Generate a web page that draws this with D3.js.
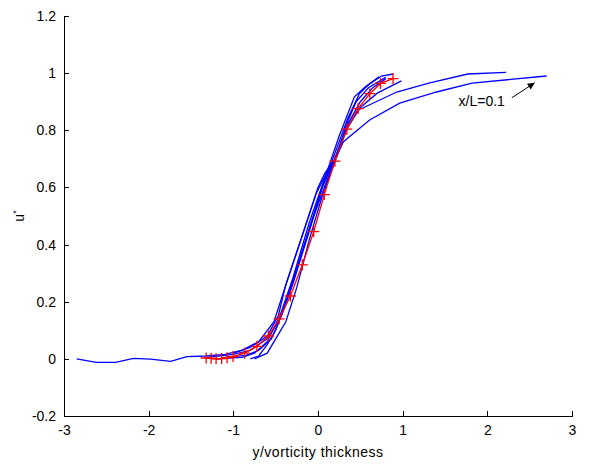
<!DOCTYPE html>
<html>
<head>
<meta charset="utf-8">
<script src="https://cdn.jsdelivr.net/npm/d3@7"></script>
<style>
  body { margin: 0; background: #fff; }
  text { font-family: "Liberation Sans", Arial, sans-serif; }
</style>
</head>
<body>
<div id="chart"></div>
<script>
// tick values
var xTicks = [-3, -2, -1, 0, 1, 2, 3];
var yTicks = [-0.2, 0, 0.2, 0.4, 0.6, 0.8, 1, 1.2];

// blue profiles, [y/thickness, u*]
var profileA = [[-2.85, 0], [-2.62, -0.012], [-2.39, -0.012], [-2.18, 0.002], [-1.98, -0.001], [-1.74, -0.009], [-1.55, 0.008], [-1.32, 0.01], [-1.1, 0.016], [-0.9, 0.03], [-0.7, 0.06], [-0.52, 0.13], [-0.4, 0.24], [-0.22, 0.4], [-0.02, 0.58], [0.1, 0.65], [0.2, 0.696], [0.3, 0.76], [0.61, 0.836], [0.965, 0.895], [1.4, 0.934], [1.82, 0.965], [2.7, 0.99]];
var profileB = [[-1.3, 0.005], [-1.0, 0.016], [-0.8, 0.03], [-0.6, 0.07], [-0.45, 0.14], [-0.3, 0.26], [-0.1, 0.45], [0.05, 0.6], [0.2, 0.7], [0.33, 0.8], [0.47, 0.871], [0.53, 0.878], [0.93, 0.934], [1.32, 0.966], [1.77, 0.997], [2.22, 1.003]];
var profileC = [[-1.2, 0.0], [-0.9, 0.005], [-0.75, 0.02], [-0.6, 0.06], [-0.45, 0.15], [-0.3, 0.28], [-0.1, 0.48], [0.1, 0.65], [0.25, 0.78], [0.43, 0.917], [0.55, 0.95], [0.72, 0.987]];
var profileD = [[-1.1, 0.005], [-0.85, 0.012], [-0.7, 0.03], [-0.55, 0.07], [-0.42, 0.16], [-0.28, 0.28], [-0.1, 0.46], [0.05, 0.6], [0.2, 0.72], [0.35, 0.84], [0.49, 0.929], [0.6, 0.96], [0.75, 0.99], [0.886, 0.997]];
var profileE = [[-0.8, 0], [-0.7, 0.01], [-0.6, 0.05], [-0.5, 0.1], [-0.4, 0.18], [-0.25, 0.32], [-0.05, 0.5], [0.2, 0.7], [0.35, 0.81], [0.5, 0.88], [0.7, 0.93], [0.985, 0.973]];
var profileF = [[-1.0, 0.02], [-0.8, 0.04], [-0.6, 0.08], [-0.47, 0.15], [-0.38, 0.26], [-0.2, 0.42], [0.0, 0.6], [0.08, 0.649], [0.2, 0.7], [0.35, 0.83], [0.45, 0.9], [0.6, 0.95], [0.8, 0.985]];
var profileG = [[-0.75, 0.0], [-0.6, 0.02], [-0.5, 0.07], [-0.38, 0.13], [-0.25, 0.25], [-0.1, 0.42], [0.05, 0.57], [0.2, 0.69], [0.35, 0.82], [0.5, 0.9], [0.65, 0.95], [0.8, 0.98]];
var profiles = [profileA, profileB, profileC, profileD, profileE, profileF, profileG];

// red reference profile with + markers
var refProfile = [[-1.321, 0.003], [-1.262, 0.002], [-1.204, 0.0], [-1.138, 0.001], [-1.074, 0.004], [-1.003, 0.008], [-0.867, 0.02], [-0.721, 0.044], [-0.585, 0.08], [-0.459, 0.14], [-0.326, 0.22], [-0.185, 0.329], [-0.051, 0.445], [0.074, 0.575], [0.2, 0.692], [0.341, 0.804], [0.474, 0.876], [0.612, 0.928], [0.738, 0.964], [0.886, 0.981]];

// annotation
var noteText = 'x/L=0.1';
var notePos = [1.66, 0.904];
var arrowFrom = [2.29, 0.914];
var arrowTo = [2.56, 0.966];

var W = 589, H = 464;
var pad = { left: 64, right: 17, top: 16, bottom: 48 };
var fontSize = 14;

var svg = d3.select('#chart').append('svg')
    .attr('width', W)
    .attr('height', H);

var x = d3.scaleLinear().domain([-3, 3]).range([pad.left, W - pad.right]);
var y = d3.scaleLinear().domain([-0.2, 1.2]).range([H - pad.bottom, pad.top]);

var fmt = function (v) { return String(+v.toFixed(1)); };

// axes, ticks pointing inward
var gx = svg.append('g')
    .attr('transform', 'translate(0,' + (H - pad.bottom) + ')')
    .call(d3.axisBottom(x).tickValues(xTicks).tickFormat(fmt).tickSizeInner(-5).tickSizeOuter(0).tickPadding(9));
var gy = svg.append('g')
    .attr('transform', 'translate(' + pad.left + ',0)')
    .call(d3.axisLeft(y).tickValues(yTicks).tickFormat(fmt).tickSizeInner(-5).tickSizeOuter(0).tickPadding(8));

[gx, gy].forEach(function (g) {
    g.selectAll('path, line').attr('stroke', '#000').attr('shape-rendering', 'crispEdges');
    g.selectAll('text').attr('font-size', fontSize).attr('fill', '#000')
        .attr('font-family', '"Liberation Sans", Arial, sans-serif');
});

var line = d3.line()
    .x(function (d) { return x(d[0]); })
    .y(function (d) { return y(d[1]); });

svg.append('g').selectAll('path')
    .data(profiles)
    .enter().append('path')
    .attr('d', line)
    .attr('fill', 'none')
    .attr('stroke', '#0000ff')
    .attr('stroke-width', 1.3);

svg.append('path')
    .datum(refProfile)
    .attr('d', line)
    .attr('fill', 'none')
    .attr('stroke', '#ff0000')
    .attr('stroke-width', 1.3);

// + markers
svg.append('g').selectAll('path')
    .data(refProfile)
    .enter().append('path')
    .attr('transform', function (d) { return 'translate(' + x(d[0]) + ',' + y(d[1]) + ')'; })
    .attr('d', d3.symbol().type({ draw: function (ctx) {
        ctx.moveTo(-5.5, 0); ctx.lineTo(5.5, 0);
        ctx.moveTo(0, -5.5); ctx.lineTo(0, 5.5);
    } }))
    .attr('fill', 'none')
    .attr('stroke', '#ff0000')
    .attr('stroke-width', 1.3);

// annotation
svg.append('defs').append('marker')
    .attr('id', 'arrowhead')
    .attr('viewBox', '0 0 10 10')
    .attr('refX', 10).attr('refY', 5)
    .attr('markerWidth', 10).attr('markerHeight', 7)
    .attr('markerUnits', 'userSpaceOnUse')
    .attr('orient', 'auto')
    .append('path').attr('d', 'M0,0L10,5L0,10z').attr('fill', '#000');

svg.append('line')
    .attr('x1', x(arrowFrom[0])).attr('y1', y(arrowFrom[1]))
    .attr('x2', x(arrowTo[0])).attr('y2', y(arrowTo[1]))
    .attr('stroke', '#000').attr('stroke-width', 1)
    .attr('marker-end', 'url(#arrowhead)');

svg.append('text')
    .attr('x', x(notePos[0])).attr('y', y(notePos[1]))
    .attr('font-size', fontSize)
    .attr('dominant-baseline', 'central')
    .text(noteText);

// axis titles
svg.append('text')
    .attr('x', x(0)).attr('y', 457)
    .attr('text-anchor', 'middle')
    .attr('font-size', fontSize)
    .attr('letter-spacing', 0.5)
    .text('y/vorticity thickness');

var ylab = svg.append('text')
    .attr('transform', 'translate(24,' + y(0.5) + ') rotate(-90)')
    .attr('text-anchor', 'middle')
    .attr('font-size', fontSize);
ylab.append('tspan').text('u');
ylab.append('tspan').attr('font-size', 9).attr('dy', -5).text('*');
</script>
</body>
</html>
